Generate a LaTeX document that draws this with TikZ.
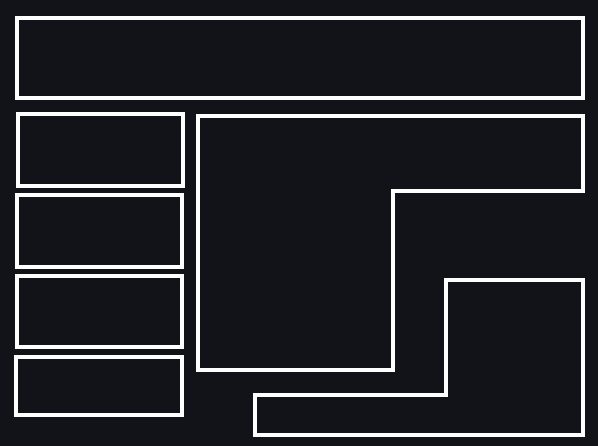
\documentclass[tikz,border=0pt]{standalone}
\definecolor{bgdark}{RGB}{18,19,24}
\tikzset{panel/.style={draw=white, line width=4pt, line join=miter}}
\begin{document}
\begin{tikzpicture}[x=1pt, y=-1pt]
\fill[bgdark] (0,0) rectangle (598,446);
\useasboundingbox (0,0) rectangle (598,446);
% header
\draw[panel] (17,18) rectangle (583,98);
% side boxes
\draw[panel] (18,114) rectangle (183,186);
\draw[panel] (17,195) rectangle (182,267);
\draw[panel] (17,276) rectangle (182,347);
\draw[panel] (16,357) rectangle (182,415);
% large stepped region
\draw[panel] (198,116) -- (583,116) -- (583,191) -- (393,191) -- (393,370) -- (198,370) -- cycle;
% lower stepped region
\draw[panel] (446,280) -- (583,280) -- (583,435) -- (255,435) -- (255,395) -- (446,395) -- cycle;
\end{tikzpicture}
\end{document}
